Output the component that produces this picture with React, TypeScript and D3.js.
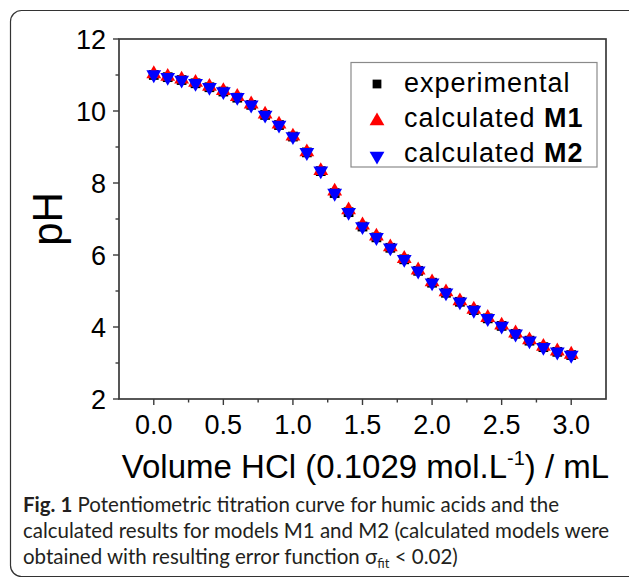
import * as d3 from "d3";

// titrant volume (mL)
const volume = [
  0.0, 0.1, 0.2, 0.3, 0.4, 0.5, 0.6, 0.7, 0.8, 0.9, 1.0, 1.1, 1.2, 1.3, 1.4, 1.5,
  1.6, 1.7, 1.8, 1.9, 2.0, 2.1, 2.2, 2.3, 2.4, 2.5, 2.6, 2.7, 2.8, 2.9, 3.0,
];

const phExperimental = [
  11.0, 10.94, 10.86, 10.77, 10.66, 10.54, 10.37, 10.17, 9.89, 9.61, 9.29, 8.85,
  8.33, 7.72, 7.19, 6.79, 6.49, 6.2, 5.88, 5.56, 5.23, 4.95, 4.7, 4.47, 4.24,
  4.03, 3.81, 3.62, 3.44, 3.31, 3.22,
];

const phM1 = [
  11.03, 10.96, 10.88, 10.79, 10.68, 10.56, 10.4, 10.19, 9.91, 9.63, 9.3, 8.86,
  8.34, 7.77, 7.25, 6.83, 6.52, 6.22, 5.9, 5.58, 5.25, 4.97, 4.72, 4.49, 4.26,
  4.05, 3.83, 3.64, 3.46, 3.33, 3.24,
];

const phM2 = [
  11.01, 10.94, 10.86, 10.77, 10.66, 10.54, 10.38, 10.17, 9.89, 9.61, 9.29, 8.85,
  8.34, 7.72, 7.19, 6.79, 6.49, 6.2, 5.88, 5.56, 5.23, 4.95, 4.7, 4.47, 4.24,
  4.03, 3.81, 3.62, 3.44, 3.31, 3.22,
];

const xTicks = [0, 0.5, 1, 1.5, 2, 2.5, 3];
const xMinorTicks = [0.25, 0.75, 1.25, 1.75, 2.25, 2.75];
const yTicks = [2, 4, 6, 8, 10, 12];
const yMinorTicks = [3, 5, 7, 9, 11];

const captionLines = [
  "calculated results for models M1 and M2 (calculated models were",
  "obtained with resulting error function ",
];

const width = 629;
const height = 579;
const chartFont = "'Liberation Sans', Arial, sans-serif";
const captionFont = "Lato, 'Noto Sans', sans-serif";

const x = d3.scaleLinear().domain([-0.25, 3.25]).range([119, 606]);
const y = d3.scaleLinear().domain([2, 12]).range([399, 39]);

const squarePath = d3.symbol().type(d3.symbolSquare).size(95)() ?? "";
const trianglePath = d3.symbol().type(d3.symbolTriangle).size(95)() ?? "";

const series = [
  { key: "exp", values: phExperimental, color: "#000000", path: squarePath, rotate: 0 },
  { key: "m1", values: phM1, color: "#ff0000", path: trianglePath, rotate: 0 },
  { key: "m2", values: phM2, color: "#0000ff", path: trianglePath, rotate: 180 },
];

export default function App() {
  const [x0, x1] = x.range();
  const [y0, y1] = y.range();
  const axisColor = "#3a3a3a";

  return (
    <div style={{ position: "absolute", left: 0, top: 0 }}>
      <svg width={width} height={height} style={{ display: "block", background: "#fff" }}>
        {/* outer figure frame */}
        <rect x={10.5} y={10.5} width={650} height={566} rx={11} fill="none" stroke="#333" strokeWidth={1.2} />

        {/* markers */}
        {series.map((s) => (
          <g key={s.key} fill={s.color}>
            {s.values.map((v, i) => (
              <path
                key={i}
                d={s.path}
                transform={`translate(${x(volume[i])},${y(v)}) rotate(${s.rotate})`}
              />
            ))}
          </g>
        ))}

        {/* plot box */}
        <rect x={x0} y={y1} width={x1 - x0} height={y0 - y1} fill="none" stroke={axisColor} strokeWidth={1.7} />

        {/* ticks */}
        <g stroke={axisColor} strokeWidth={1.4}>
          {xTicks.map((t) => (
            <line key={`xt${t}`} x1={x(t)} x2={x(t)} y1={y0} y2={y0 + 6} />
          ))}
          {xMinorTicks.map((t) => (
            <line key={`xm${t}`} x1={x(t)} x2={x(t)} y1={y0} y2={y0 + 3.5} />
          ))}
          {yTicks.map((t) => (
            <line key={`yt${t}`} x1={x0 - 6} x2={x0} y1={y(t)} y2={y(t)} />
          ))}
          {yMinorTicks.map((t) => (
            <line key={`ym${t}`} x1={x0 - 3.5} x2={x0} y1={y(t)} y2={y(t)} />
          ))}
        </g>

        {/* tick labels */}
        <g fontFamily={chartFont} fontSize={27} fill="#000">
          {xTicks.map((t) => (
            <text key={`xl${t}`} x={x(t)} y={434} textAnchor="middle">
              {d3.format(".1f")(t)}
            </text>
          ))}
          {yTicks.map((t) => (
            <text key={`yl${t}`} x={x0 - 13} y={y(t)} dy="0.36em" textAnchor="end">
              {t}
            </text>
          ))}
        </g>

        {/* axis titles */}
        <text
          x={(x0 + x1) / 2 + 3}
          y={478}
          textAnchor="middle"
          fontFamily={chartFont}
          fontSize={33}
          fill="#000"
        >
          Volume HCl (0.1029 mol.L
          <tspan fontSize={20} dy={-13}>-1</tspan>
          <tspan dy={13}>) / mL</tspan>
        </text>
        <text
          transform={`translate(62,${(y0 + y1) / 2}) rotate(-90)`}
          textAnchor="middle"
          fontFamily={chartFont}
          fontSize={42}
          fill="#000"
        >
          pH
        </text>

        {/* legend */}
        <rect x={351} y={62.5} width={246} height={104.5} fill="#fff" stroke="#8a8a8a" strokeWidth={1.2} />
        <g fontFamily={chartFont} fontSize={27} fill="#000" letterSpacing={1}>
          <path d={squarePath} transform="translate(377,84) scale(0.9)" fill="#000" />
          <text x={404} y={92}>experimental</text>
          <path d={trianglePath} transform="translate(377,121)" fill="#ff0000" />
          <text x={404} y={127}>
            calculated <tspan fontWeight="bold">M1</tspan>
          </text>
          <path d={trianglePath} transform="translate(377,156) rotate(180)" fill="#0000ff" />
          <text x={404} y={162}>
            calculated <tspan fontWeight="bold">M2</tspan>
          </text>
        </g>

        {/* caption */}
        <g fontFamily={captionFont} fontSize={20.5} fill="#231f20">
          <text x={23} y={512}>
            <tspan fontWeight="bold">Fig. 1</tspan>
            {"  Potentiometric titration curve for humic acids and the"}
          </text>
          <text x={23} y={538}>{captionLines[0]}</text>
          <text x={23} y={564}>
            {captionLines[1]}σ
            <tspan fontSize={13} dy={4}>fit</tspan>
            <tspan dy={-4}>{" < 0.02)"}</tspan>
          </text>
        </g>
      </svg>
    </div>
  );
}
